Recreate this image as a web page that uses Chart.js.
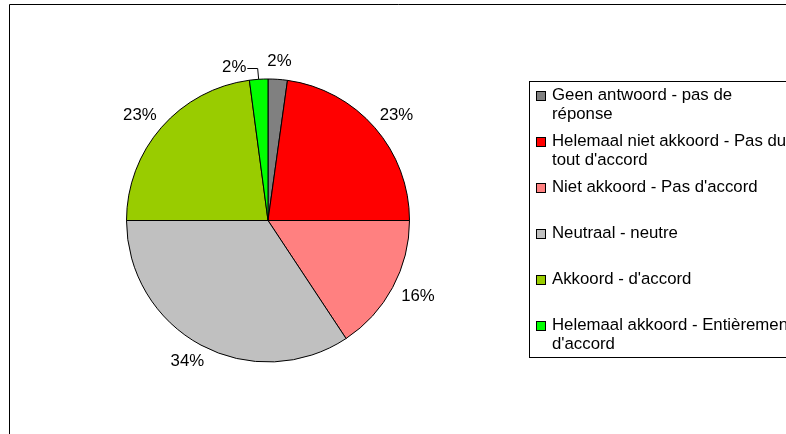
<!DOCTYPE html>
<html>
<head>
<meta charset="utf-8">
<script src="https://cdn.jsdelivr.net/npm/chart.js@4.4.0/dist/chart.umd.min.js"></script>
<style>
  html, body { margin: 0; padding: 0; background: #fff; }
  #wrap { width: 786px; height: 434px; }
</style>
</head>
<body>
<div id="wrap"><canvas id="pieChart" width="786" height="434"></canvas></div>
<script>
// Data
const categories = [
    ['Geen antwoord - pas de', 'réponse'],
    ['Helemaal niet akkoord - Pas du', "tout d'accord"],
    ["Niet akkoord - Pas d'accord"],
    ['Neutraal - neutre'],
    ["Akkoord - d'accord"],
    ['Helemaal akkoord - Entièrement', "d'accord"]
];
const values = [2.2, 22.8, 15.7, 34.3, 22.9, 2.1];
const sliceColors = ['#808080', '#ff0000', '#ff8080', '#c0c0c0', '#99cc00', '#00ff00'];

const FONT = '16.8px "Liberation Sans", Arial, sans-serif';

// Outer frame (sheet border)
const framePlugin = {
    id: 'frame',
    beforeDraw(chart) {
        const c = chart.ctx;
        c.save();
        c.fillStyle = '#fff';
        c.fillRect(0, 0, chart.width, chart.height);
        c.strokeStyle = '#000';
        c.lineWidth = 1;
        c.beginPath();
        c.moveTo(9.5, chart.height + 2);
        c.lineTo(9.5, 4.5);
        c.lineTo(chart.width + 2, 4.5);
        c.stroke();
        c.restore();
    }
};

// Percent labels outside the slices
const pctLabels = {
    id: 'pctLabels',
    afterDatasetsDraw(chart) {
        const c = chart.ctx;
        const arcs = chart.getDatasetMeta(0).data;
        const total = values.reduce((a, b) => a + b, 0);
        const placed = [];
        c.save();
        c.font = FONT;
        c.fillStyle = '#000';
        c.textAlign = 'center';
        c.textBaseline = 'middle';
        arcs.forEach((arc, i) => {
            const p = arc.getProps(['x', 'y', 'startAngle', 'endAngle', 'outerRadius'], true);
            const mid = (p.startAngle + p.endAngle) / 2;
            const txt = Math.round(values[i] / total * 100) + '%';
            const w = c.measureText(txt).width;
            const h = 13;
            const dx = Math.cos(mid), dy = Math.sin(mid);
            let cx = p.x + dx * (p.outerRadius + 12) + dx * w / 2;
            let cy = p.y + dy * (p.outerRadius + 12) + dy * h / 2;
            let leader = false;
            placed.forEach(o => {
                if (Math.abs(o.cx - cx) < (o.w + w) / 2 + 4 && Math.abs(o.cy - cy) < h) {
                    // push aside and draw a leader line
                    cx = o.cx - o.w / 2 - 21 - w / 2;
                    cy = cy + 7;
                    leader = true;
                }
            });
            c.fillText(txt, cx, cy);
            if (leader) {
                const ex = p.x + dx * p.outerRadius;
                const ey = p.y + dy * p.outerRadius;
                c.strokeStyle = '#000';
                c.lineWidth = 1;
                c.beginPath();
                c.moveTo(cx + w / 2 + 1, Math.round(cy) + 0.5);
                c.lineTo(ex - 1, Math.round(cy) + 0.5);
                c.lineTo(ex, ey);
                c.stroke();
            }
            placed.push({ cx, cy, w });
        });
        c.restore();
    }
};

// Legend box on the right
const sideLegend = {
    id: 'sideLegend',
    afterDraw(chart) {
        const c = chart.ctx;
        const box = { x: 529.5, y: 81.5, w: 300, h: 276 };
        c.save();
        c.strokeStyle = '#000';
        c.lineWidth = 1;
        c.strokeRect(box.x, box.y, box.w, box.h);
        c.font = FONT;
        c.textAlign = 'left';
        c.textBaseline = 'middle';
        const step = box.h / categories.length;
        categories.forEach((lines, i) => {
            const top = box.y + 13.5 + i * step;
            const sy = Math.round(top - 4.5) + 0.5;
            c.fillStyle = sliceColors[i];
            c.fillRect(536.5, sy, 9, 9);
            c.strokeStyle = '#000';
            c.strokeRect(536.5, sy, 9, 9);
            c.fillStyle = '#000';
            lines.forEach((ln, j) => c.fillText(ln, 552, top + j * 19));
        });
        c.restore();
    }
};

const ctx = document.getElementById('pieChart').getContext('2d');
const chart = new Chart(ctx, {
    type: 'pie',
    data: {
        labels: categories,
        datasets: [{
            data: values,
            backgroundColor: sliceColors,
            borderColor: '#000',
            borderWidth: 1
        }]
    },
    options: {
        responsive: false,
        animation: false,
        devicePixelRatio: 1,
        layout: {
            padding: { left: 126, top: 78.5, right: 376, bottom: 71.5 }
        },
        plugins: {
            legend: { display: false },
            tooltip: { enabled: false }
        }
    },
    plugins: [framePlugin, pctLabels, sideLegend]
});
</script>
</body>
</html>
